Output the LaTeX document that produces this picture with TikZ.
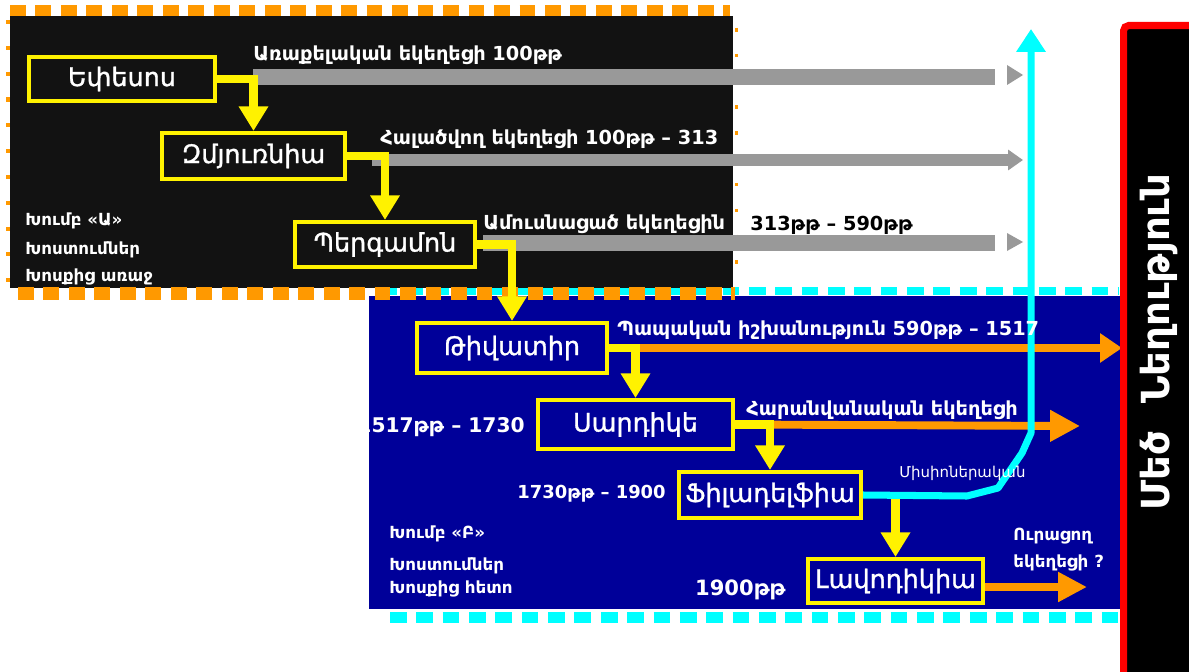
\documentclass[tikz,border=0pt]{standalone}
\usepackage{fontspec}
\setmainfont{DejaVu Sans}
\newfontfamily\churchfont[FakeBold=1.2]{DejaVu Sans}
\usetikzlibrary{arrows.meta}

\definecolor{panelblack}{RGB}{18,18,18}
\definecolor{panelblue}{RGB}{0,0,153}
\definecolor{barorange}{RGB}{255,153,0}
\definecolor{bargray}{RGB}{153,153,153}
\definecolor{misscyan}{RGB}{0,255,255}

\begin{document}
\begin{tikzpicture}[%
      x=0.02cm, y=-0.02cm,
      church/.style={draw=yellow, line width=2.3pt, text=white, inner sep=0pt,
        font=\churchfont\fontsize{14.5}{16}\selectfont},
      flow/.style={draw=yellow, line width=5pt, -{Triangle[width=16pt,length=14pt]}},
      era/.style={draw=barorange, line width=4.5pt},
      bar/.style={draw=bargray, line width=9pt},
      mission/.style={draw=misscyan, line width=4pt, line join=round,
        -{Triangle[width=16pt,length=13pt]}},
      caption/.style={text=white, inner sep=0pt, anchor=base west,
        font=\bfseries\fontsize{11}{13}\selectfont},
      grouptext/.style={text=white, inner sep=0pt, anchor=base west,
        font=\bfseries\fontsize{9.5}{11}\selectfont},
      years/.style={text=white, inner sep=0pt, anchor=base east,
        font=\bfseries\fontsize{11.5}{13}\selectfont},
      orangedash/.style={draw=barorange, dash pattern=on 9pt off 5.5pt},
      cyandash/.style={draw=misscyan, dash pattern=on 9.5pt off 5.5pt},
      ]
      \useasboundingbox (0,0) rectangle (1189,672);
      \clip (0,0) rectangle (1189,672);
      \fill [color=white] (0,0) rectangle (1189,672);

      % group B panel
      \fill [color=panelblue] (369,296) rectangle (1120,609);
      \draw [cyandash, line width=5pt] (380,291) -- (1118,291);
      \draw [cyandash, line width=6pt] (390,617.5) -- (1118,617.5);

      % group A panel
      \fill [color=panelblack] (10,16) rectangle (733,288);
      \draw [orangedash, line width=6.2pt] (10,10.5) -- (730,10.5);
      \draw [orangedash, line width=7.4pt] (18,293.5) -- (735,293.5);
      \draw [draw=barorange, line width=2.2pt, dash pattern=on 2.3pt off 12.4pt] (8,20) -- (8,286);
      \draw [draw=barorange, line width=2pt, dash pattern=on 2pt off 12.7pt] (736.5,28) -- (736.5,286);

      % the seven churches
      \node[church, minimum width=3.72cm, minimum height=0.88cm] (ephesus) at (122,79) {Եփեսոս};
      \node[church, minimum width=3.66cm, minimum height=0.92cm] (smyrna) at (253.5,156) {Զմյուռնիա};
      \node[church, minimum width=3.6cm, minimum height=0.9cm] (pergamon) at (385,244.5) {Պերգամոն};
      \node[church, minimum width=3.8cm, minimum height=1.0cm] (thyatira) at (512,348) {Թիվատիր};
      \node[church, minimum width=3.9cm, minimum height=0.98cm] (sardis) at (635.5,424.5) {Սարդիկե};
      \node[church, minimum width=3.64cm, minimum height=0.92cm] (philadelphia) at (770,495) {Ֆիլադելֆիա};
      \node[church, minimum width=3.5cm, minimum height=0.88cm] (laodicea) at (895.5,581) {Լավոդիկիա};

      % gray eras
      \coordinate (apostS) at (253,77);
      \coordinate (apostE) at (995,77);
      \coordinate (persS) at (372,160);
      \coordinate (persE) at (1023,160);
      \coordinate (marrS) at (483,243);
      \coordinate (marrE) at (995,243);
      \draw [bar] (apostS) -- (apostE);
      \draw [bar, line width=7pt, -{Triangle[width=11.3pt,length=8.5pt]}] (persS) -- (persE);
      \draw [bar] (marrS) -- (marrE);
      \fill [color=bargray] (1007,65) -- (1023,75) -- (1007,85) -- cycle;
      \fill [color=bargray] (1007,233) -- (1023,242) -- (1007,251) -- cycle;

      % orange eras
      \coordinate (papalE) at (1122,348);
      \coordinate (denomE) at (1080,426);
      \coordinate (apostasyE) at (1087,587);
      \draw [era, -{Triangle[width=16pt,length=12.5pt]}] (thyatira.east) -- (papalE);
      \draw [era, -{Triangle[width=17pt,length=17pt]}] (sardis.east) -- (denomE);
      \draw [era, -{Triangle[width=16pt,length=16.4pt]}] (laodicea.east |- apostasyE) -- (apostasyE);

      % succession of churches
      \draw [flow] (ephesus.east) -| (smyrna.north);
      \draw [flow] (smyrna.east) -| (pergamon.north);
      \draw [flow] (pergamon.east) -| (thyatira.north);
      \draw [flow] (thyatira.east) -| (sardis.north);
      \draw [flow] (sardis.east) -| (philadelphia.north);
      \draw [flow] (philadelphia.east -| laodicea.north) -- (laodicea.north);

      % missionary movement
      \coordinate (missionE) at (1031,29);
      \draw [mission] (philadelphia.east) -- (967,496) -- (998,488) -- (1022,453) -- (1031,433) -- (missionE);

      % captions
      \node[caption] (apostT) at (253,61) {Առաքելական եկեղեցի 100թթ};
      \node[caption] (persT) at (380,145) {Հալածվող եկեղեցի 100թթ – 313};
      \node[caption] (marrT) at (483,230) {Ամուսնացած եկեղեցին};
      \node[caption, text=black] (marrY) at (750,231) {313թթ – 590թթ};
      \node[caption] (papalT) at (617,335) {Պապական իշխանություն 590թթ – 1517};
      \node[caption] (denomT) at (746,415) {Հարանվանական եկեղեցի};
      \node[caption, font=\fontsize{8.5}{10}\selectfont] (missionT) at (899,477) {Միսիոներական};
      \node[caption, font=\bfseries\fontsize{9.5}{11}\selectfont] (apostasyT) at (1013,540) {Ուրացող};
      \node[caption, font=\bfseries\fontsize{9.5}{11}\selectfont] (apostasyT2) at (1013,567) {եկեղեցի ?};

      \node[years] (sardisY) at (525,432) {1517թթ – 1730};
      \node[years, font=\bfseries\fontsize{10.2}{12}\selectfont] (philY) at (666,498) {1730թթ – 1900};
      \node[years, font=\bfseries\fontsize{12}{14}\selectfont] (laodY) at (786,595) {1900թթ};

      \node[grouptext] (groupA) at (25,225) {Խումբ «Ա»};
      \node[grouptext] (promA) at (25,255) {Խոստումներ};
      \node[grouptext] (wordA) at (25,281) {Խոսքից առաջ};
      \node[grouptext] (groupB) at (389,538) {Խումբ «Բ»};
      \node[grouptext] (promB) at (389,570) {Խոստումներ};
      \node[grouptext] (wordB) at (389,593) {Խոսքից հետո};

      % great tribulation
      \draw [color=red, line width=4pt, fill=black, rounded corners=3pt] (1123.5,25.5) rectangle (1210,700);
      \node[rotate=90, text=white, font=\bfseries\fontsize{22}{24}\selectfont] (tribulation) at (1159,342) {Մեծ\ \ Նեղություն};
\end{tikzpicture}
\end{document}
